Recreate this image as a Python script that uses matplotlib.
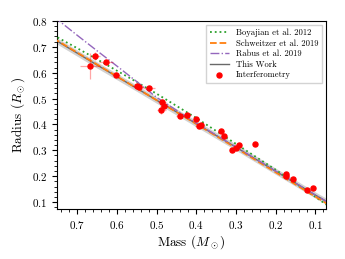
import matplotlib
matplotlib.use("Agg")
import matplotlib.pyplot as plt
import numpy as np
from matplotlib.ticker import MultipleLocator

plt.rcParams['font.family'] = 'serif'
plt.rcParams['font.serif'] = ['cmr10']
plt.rcParams['mathtext.fontset'] = 'cm'
plt.rcParams['axes.formatter.use_mathtext'] = True

# relations
mass_grid = [0.76, 0.75, 0.7, 0.65, 0.6, 0.55, 0.5, 0.4, 0.3, 0.2, 0.1, 0.075, 0.07]
r_boyajian = [0.745, 0.737, 0.695, 0.652, 0.608, 0.564, 0.519, 0.425, 0.325, 0.225, 0.120, 0.093, 0.088]
r_schweitzer = [0.733, 0.724, 0.678, 0.632, 0.586, 0.540, 0.494, 0.402, 0.309, 0.215, 0.121, 0.098, 0.093]
r_rabus = [0.818, 0.806, 0.745, 0.685, 0.626, 0.566, 0.505, 0.405, 0.313, 0.220, 0.127, 0.105, 0.100]
r_thiswork = [0.731, 0.722, 0.676, 0.630, 0.585, 0.540, 0.494, 0.403, 0.312, 0.219, 0.127, 0.105, 0.100]
band = 0.012

# interferometric stars
m_int = [0.668, 0.654, 0.628, 0.603, 0.549, 0.544, 0.518, 0.486, 0.488, 0.481,
         0.440, 0.422, 0.400, 0.393, 0.388, 0.337, 0.331, 0.310, 0.300, 0.293,
         0.252, 0.175, 0.174, 0.157, 0.121, 0.106]
r_int = [0.627, 0.666, 0.640, 0.593, 0.549, 0.545, 0.540, 0.487, 0.456, 0.472,
         0.434, 0.438, 0.422, 0.395, 0.398, 0.375, 0.355, 0.303, 0.307, 0.320,
         0.324, 0.207, 0.199, 0.189, 0.145, 0.154]
m_err = [0.025, 0.012, 0.018, 0.010, 0.012, 0.010, 0.015, 0.010, 0.012, 0.010,
         0.010, 0.008, 0.006, 0.010, 0.008, 0.008, 0.006, 0.005, 0.005, 0.005,
         0.004, 0.004, 0.004, 0.004, 0.004, 0.004]
r_err = [0.050, 0.015, 0.010, 0.008, 0.008, 0.008, 0.010, 0.010, 0.015, 0.010,
         0.006, 0.006, 0.005, 0.008, 0.006, 0.006, 0.006, 0.005, 0.005, 0.005,
         0.004, 0.004, 0.004, 0.004, 0.004, 0.004]

fig = plt.figure(figsize=(3.45, 2.59), dpi=100)
ax = fig.add_axes([0.166, 0.193, 0.779, 0.726])

tw = np.array(r_thiswork)
ax.fill_between(mass_grid, tw - band, tw + band, color='gray', alpha=0.35, lw=0, zorder=1)
ax.plot(mass_grid, r_thiswork, color='dimgray', lw=1.0, zorder=2, label='This Work')
ax.plot(mass_grid, r_boyajian, color='#2ca02c', ls=':', lw=1.3, zorder=3, label='Boyajian et al. 2012')
ax.plot(mass_grid, r_schweitzer, color='#ff7f0e', ls='--', lw=1.3, zorder=3, label='Schweitzer et al. 2019')
ax.plot(mass_grid, r_rabus, color='#9467bd', ls='-.', lw=1.0, zorder=3, label='Rabus et al. 2019')

ax.errorbar(m_int, r_int, xerr=m_err, yerr=r_err, fmt='none', ecolor='red', alpha=0.35,
            elinewidth=0.9, zorder=4)
ax.scatter(m_int, r_int, color='red', s=13, zorder=5, label='Interferometry')

ax.set_xlim(0.75, 0.073)
ax.set_ylim(0.073, 0.8)
ax.xaxis.set_major_locator(MultipleLocator(0.1))
ax.xaxis.set_minor_locator(MultipleLocator(0.02))
ax.yaxis.set_major_locator(MultipleLocator(0.1))
ax.yaxis.set_minor_locator(MultipleLocator(0.02))
ax.tick_params(labelsize=8, width=0.8, length=3.5)
ax.tick_params(which='minor', length=2, width=0.6)
ax.set_xlabel(r'Mass ($M_\odot$)', fontsize=9.5, labelpad=2)
ax.set_ylabel(r'Radius ($R_\odot$)', fontsize=9.5, labelpad=3)

h, l = ax.get_legend_handles_labels()
order = [1, 2, 3, 0, 4]
ax.legend([h[i] for i in order], [l[i] for i in order], loc='upper right', fontsize=6.2,
          handlelength=2.2, borderpad=0.4, labelspacing=0.25, fancybox=False,
          edgecolor='lightgray', framealpha=1)

fig.savefig('out.png', dpi=100)
